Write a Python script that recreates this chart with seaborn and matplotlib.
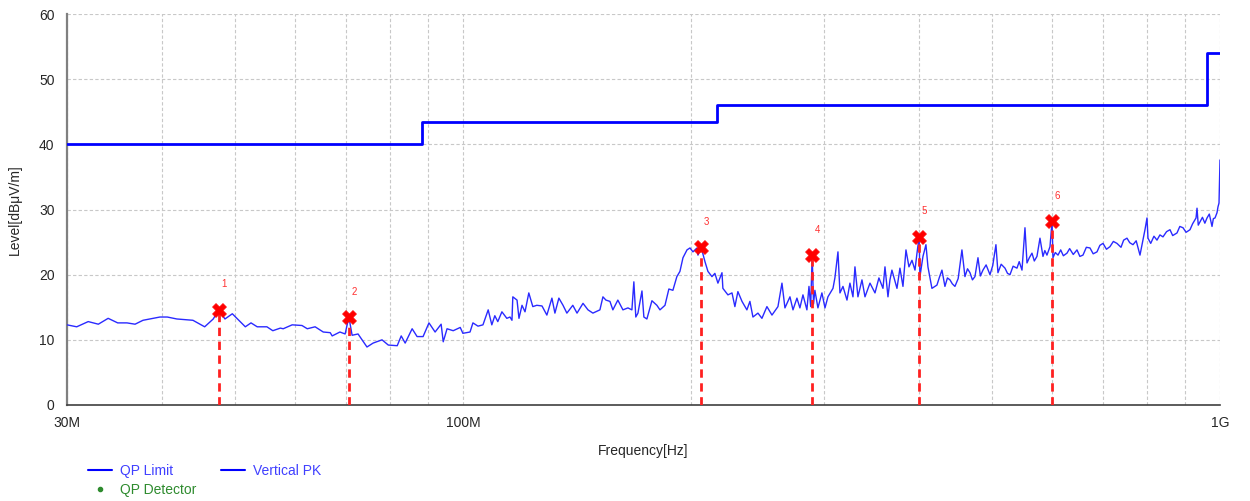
import numpy as np
import pandas as pd
import matplotlib
matplotlib.use("Agg")
import matplotlib.pyplot as plt
import seaborn as sns
from matplotlib.ticker import FixedLocator, FixedFormatter, NullFormatter
from matplotlib.lines import Line2D

# ---------------- data ----------------
# QP limit (step, post) : frequency in MHz, level in dBuV/m
limit_freq = [30.0, 88.3, 216.6, 961.0, 1000.0]
limit_level = [40.0, 43.5, 46.0, 54.0, 54.0]

# Vertical PK trace (MHz, dBuV/m)
pk_freq = [
    30.0, 30.9, 32.0, 33.0, 34.0, 35.0, 36.0, 36.9, 37.8, 39.8, 40.7, 41.9, 44.0, 45.6, 46.8, 47.6,
    48.5, 49.6, 51.6, 52.5, 53.5, 55.1, 56.1, 57.4, 57.9, 59.5, 61.3, 62.3, 63.8, 65.4, 66.8, 67.2,
    68.8, 69.9, 70.7, 71.4, 72.7, 74.7, 76.1, 78.2, 79.7, 81.9, 82.9, 83.9, 85.7, 87.0, 88.6, 90.2,
    91.9, 93.6, 94.2, 95.3, 97.1, 99.2, 100.0, 102.2, 103.1, 104.7, 106.3, 108.0, 109.2, 110.2, 111.2,
    112.6, 114.3, 115.4, 116.1, 116.4, 117.9, 118.6, 119.7, 120.8, 122.2, 123.7, 125.2, 127.2, 129.1,
    131.1, 132.3, 133.9, 135.6, 137.2, 139.7, 141.5, 144.1, 146.3, 148.5, 151.7, 153.1, 154.5, 156.4,
    157.8, 160.2, 162.7, 165.2, 167.2, 168.2, 169.2, 170.3, 172.4, 173.4, 175.0, 177.7, 180.4, 182.1,
    184.9, 187.1, 189.4, 191.7, 193.5, 195.3, 197.7, 199.5, 201.3, 202.5, 203.8, 204.4, 206.4, 208.8,
    210.7, 213.3, 215.2, 217.2, 219.9, 220.5, 223.9, 226.7, 228.7, 230.8, 233.7, 237.2, 239.4, 241.6,
    245.3, 248.3, 252.1, 256.0, 260.7, 263.9, 266.3, 270.4, 272.9, 276.2, 278.7, 281.3, 284.7, 286.5,
    288.0, 289.3, 290.5, 291.7, 294.4, 298.0, 300.8, 303.5, 308.2, 310.0, 312.9, 314.8, 317.7, 321.6,
    324.5, 327.5, 329.5, 332.5, 336.6, 339.7, 344.9, 350.2, 354.4, 358.8, 361.0, 364.3, 366.5, 368.7,
    374.4, 377.8, 381.3, 384.8, 388.3, 391.9, 395.5, 397.9, 400.5, 401.5, 405.2, 408.9, 411.4, 416.4,
    422.8, 426.0, 429.3, 433.2, 436.5, 439.9, 443.0, 446.6, 451.0, 456.2, 460.4, 464.0, 467.5, 471.0,
    474.6, 479.0, 482.5, 486.3, 491.0, 496.8, 501.0, 505.9, 509.0, 514.0, 520.0, 524.0, 528.0, 533.0,
    539.3, 543.0, 547.6, 552.6, 556.0, 560.0, 564.5, 568.5, 573.1, 578.4, 583.7, 587.0, 590.8, 596.3,
    600.0, 601.7, 606.0, 611.0, 616.0, 621.0, 627.9, 633.0, 640.0, 647.3, 653.0, 659.2, 666.0, 673.4,
    680.0, 687.9, 694.0, 700.6, 708.0, 715.6, 723.0, 731.0, 740.0, 746.0, 753.6, 760.0, 767.5, 775.0,
    784.0, 790.0, 796.0, 800.9, 803.3, 810.0, 818.0, 825.6, 833.0, 840.8, 850.0, 858.9, 866.0, 877.4,
    885.0, 893.6, 902.0, 912.8, 920.0, 929.7, 932.5, 936.0, 941.0, 948.0, 955.0, 961.3, 968.0, 976.0,
    980.0, 984.9, 990.9, 993.9, 997.0, 1000.0,
]
pk_level = [
    12.3, 12.0, 12.8, 12.4, 13.3, 12.6, 12.6, 12.4, 13.0, 13.5, 13.5, 13.2, 13.0, 12.0, 13.2, 14.6,
    13.2, 14.0, 12.0, 12.6, 12.0, 12.0, 11.4, 11.8, 11.7, 12.3, 12.2, 11.7, 12.0, 11.2, 11.1, 10.6,
    11.2, 10.9, 13.5, 10.7, 10.9, 8.9, 9.5, 10.0, 9.2, 9.1, 10.6, 9.5, 11.7, 10.5, 10.5, 12.6,
    11.2, 12.4, 9.7, 11.7, 11.4, 11.9, 11.0, 11.2, 12.6, 12.1, 12.3, 14.6, 12.3, 13.7, 12.8,
    14.3, 13.3, 13.5, 13.0, 16.6, 16.1, 13.3, 15.3, 14.3, 17.2, 15.1, 15.3, 15.2, 13.8,
    16.4, 14.1, 16.4, 15.3, 14.1, 15.3, 14.1, 15.6, 14.6, 14.1, 14.6, 16.6, 16.1, 15.9,
    14.6, 16.1, 14.6, 14.9, 14.6, 18.9, 13.5, 14.1, 17.5, 13.5, 13.2, 16.0, 15.3, 14.6,
    15.3, 17.8, 17.6, 19.7, 20.5, 22.6, 23.8, 24.1, 23.5, 23.8, 24.1, 23.0, 24.2, 22.0,
    20.5, 19.7, 20.2, 18.7, 20.3, 17.9, 16.9, 17.2, 15.1, 17.4, 15.9, 14.6, 15.9, 13.5,
    14.1, 13.3, 15.1, 13.8, 15.1, 18.7, 14.9, 16.6, 14.6, 16.4, 14.9, 16.9, 14.6, 18.2,
    15.1, 23.0, 15.5, 17.6, 14.9, 17.2, 14.9, 16.6, 17.9, 19.5, 23.5, 17.2, 18.2, 16.1,
    18.7, 16.6, 21.2, 16.6, 19.2, 16.6, 18.7, 17.2, 19.5, 17.9, 21.2, 16.6, 19.2, 20.7,
    17.9, 21.0, 18.2, 23.8, 21.2, 22.2, 20.7, 23.3, 25.8, 19.7, 22.8, 24.6, 21.2, 17.9,
    18.4, 19.6, 20.7, 18.2, 19.5, 19.2, 18.6, 18.2, 19.4, 23.8, 19.7, 20.9, 20.3, 19.2,
    19.7, 22.6, 19.8, 20.7, 21.5, 20.0, 21.4, 24.6, 20.3, 21.6, 21.0, 20.2, 20.0, 21.3,
    21.0, 22.0, 20.7, 27.2, 21.8, 22.6, 23.3, 22.1, 22.8, 25.6, 22.8, 23.7, 23.0, 24.3,
    28.2, 22.6, 23.4, 23.0, 23.8, 22.9, 23.3, 24.0, 23.1, 23.8, 22.8, 23.0, 24.2, 24.1,
    23.2, 23.5, 24.5, 24.8, 23.9, 24.3, 25.1, 24.8, 24.2, 25.3, 25.6, 24.9, 24.6, 25.2,
    23.0, 25.0, 26.9, 28.7, 25.6, 24.8, 25.9, 25.3, 26.1, 25.8, 26.6, 26.9, 26.0, 26.4,
    27.4, 27.2, 26.5, 26.9, 27.8, 28.7, 30.2, 27.6, 28.1, 28.8, 27.9, 28.7, 29.3, 27.4,
    28.6, 28.7, 29.5, 30.4, 31.0, 37.6,
]

# QP detector markers
marker_freq = [47.6, 70.7, 206.4, 289.3, 400.5, 600.0]
marker_level = [14.6, 13.5, 24.2, 23.0, 25.8, 28.2]
marker_label = ["1", "2", "3", "4", "5", "6"]

x_major = [30, 100, 1000]
x_major_labels = ["30M", "100M", "1G"]
x_minor = [40, 50, 60, 70, 80, 90, 200, 300, 400, 500, 600, 700, 800, 900]
y_ticks = [0, 10, 20, 30, 40, 50, 60]

# ---------------- styling ----------------
sns.set_style("white")
plt.rcParams["font.family"] = ["Liberation Sans", "DejaVu Sans"]

fig = plt.figure(figsize=(12.5, 5.01), dpi=100)
ax = fig.add_axes([67 / 1250, 1 - 405 / 501, (1220 - 67) / 1250, (405 - 14) / 501])

lim_df = pd.DataFrame({"f": limit_freq, "lvl": limit_level})
pk_df = pd.DataFrame({"f": pk_freq, "lvl": pk_level})
mk_df = pd.DataFrame({"f": marker_freq, "lvl": marker_level})

sns.lineplot(data=pk_df, x="f", y="lvl", ax=ax, color="#2a2aff", lw=1.0,
             sort=False, estimator=None, zorder=3)
sns.lineplot(data=lim_df, x="f", y="lvl", ax=ax, color="#0000ff", lw=2.0,
             drawstyle="steps-post", sort=False, estimator=None, zorder=4)

ax.vlines(marker_freq, 0, marker_level, colors="#ff2020", linestyles=(0, (3, 2)),
          lw=2.0, zorder=5)
sns.scatterplot(data=mk_df, x="f", y="lvl", ax=ax, marker="X", s=100,
                color="#ff0000", edgecolor="#ff0000", linewidth=0.5, zorder=6)
for f, l, t in zip(marker_freq, marker_level, marker_label):
    ax.text(f * 1.016, l + 3.9, t, color="#ff3030", fontsize=7, ha="center", va="center")

ax.set_xscale("log")
ax.set_xlim(30, 1000)
ax.set_ylim(0, 60)
ax.xaxis.set_major_locator(FixedLocator(x_major))
ax.xaxis.set_major_formatter(FixedFormatter(x_major_labels))
ax.xaxis.set_minor_locator(FixedLocator(x_minor))
ax.xaxis.set_minor_formatter(NullFormatter())
ax.set_yticks(y_ticks)
ax.set_yticklabels([str(v) for v in y_ticks])

ax.grid(True, which="both", axis="x", color="#c8c8c8", ls=(0, (3, 2)), lw=0.8)
ax.grid(True, which="major", axis="y", color="#c8c8c8", ls=(0, (3, 2)), lw=0.8)
ax.set_axisbelow(True)

for s in ["top", "right"]:
    ax.spines[s].set_visible(False)
ax.spines["left"].set_color("#808080")
ax.spines["left"].set_linewidth(1.6)
ax.spines["bottom"].set_color("#404040")
ax.spines["bottom"].set_linewidth(1.2)

ax.tick_params(axis="x", which="both", direction="in", length=4, width=1,
               color="#404040", labelsize=10, pad=8)
ax.tick_params(axis="y", length=0, labelsize=10, pad=9)

ax.set_xlabel("Frequency[Hz]", fontsize=10, labelpad=10)
ax.set_ylabel("Level[dBμV/m]", fontsize=10, labelpad=12)

handles = [
    Line2D([], [], color="#0000ff", lw=1.5),
    Line2D([], [], color="#2e8b2e", marker="o", ls="none", markersize=3),
    Line2D([], [], color="#0000ff", lw=1.5),
]
labels = ["QP Limit", "QP Detector", "Vertical PK"]
leg = fig.legend(handles, labels, loc="upper left", bbox_to_anchor=(0.0648, 0.087),
                 ncol=2, frameon=False, fontsize=10, handlelength=1.75,
                 columnspacing=1.75, labelspacing=0.3, handletextpad=0.55, borderpad=0)
for txt, col in zip(leg.get_texts(), ["#4040ff", "#2e8b2e", "#4040ff"]):
    txt.set_color(col)

fig.savefig("out.png", dpi=100)
